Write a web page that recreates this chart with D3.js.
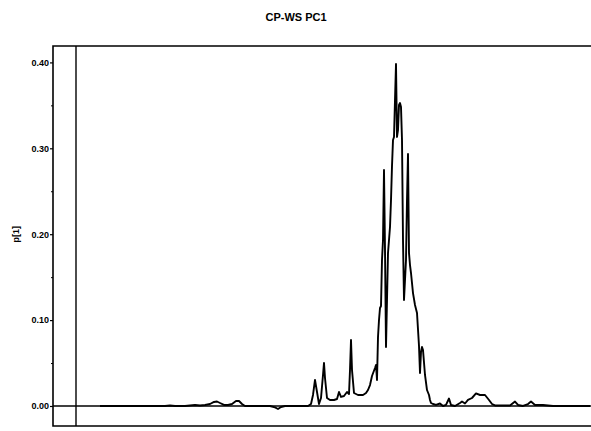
<!DOCTYPE html>
<html>
<head>
<meta charset="utf-8">
<script src="https://cdn.jsdelivr.net/npm/d3@7"></script>
<style>
  html, body { margin: 0; padding: 0; background: #fff; }
  svg { display: block; }
</style>
</head>
<body>
<svg id="chart" width="591" height="431"></svg>
<script>
// ---- data ----
const chartTitle = "CP-WS PC1";
const yLabel = "p[1]";
const yTicks = [0.00, 0.10, 0.20, 0.30, 0.40];
const yTickLabels = ["0.00", "0.10", "0.20", "0.30", "0.40"];
const yMinorTicks = [0.05, 0.15, 0.25, 0.35];
// variable index (x) and loading p[1] (y)
const varIndex = [24,64,89,94,99,109,114,119,124,129,134,138,141,144,148,152,156,160,163,166,169,179,194,199,202,205,209,224,232,235,237,239,241,243,245,247,248,249,251,254,258,261,263,265,268,271,273,274,275,276,278,282,287,290,292,294,296,299,300,301,302,303,304,305,306,307,308,309,310,311,312,313,314,315,316,317,318,319,320,321,322,323,324,325,326,327,328,329,330,331,332,333,334,335,337,339,341,343,344,345,346,347,349,351,353,354,355,357,360,364,367,370,373,375,379,384,386,389,392,396,400,404,409,413,416,419,424,434,439,442,447,452,455,459,467,477,494,514];
const loading = [0,0,0,0.0006,0,0,0.0006,0.0012,0.0006,0.0012,0.0023,0.0047,0.0052,0.0035,0.0012,0.0012,0.0023,0.0058,0.0058,0.0023,0,0,0,-0.0017,-0.0035,-0.0012,0,0,0,0.0023,0.0128,0.0303,0.0163,0.0023,0.0093,0.0361,0.0501,0.0326,0.0093,0.0070,0.0070,0.0081,0.0163,0.0105,0.0116,0.0163,0.0140,0.0419,0.0768,0.0419,0.0151,0.0128,0.0128,0.0151,0.0186,0.0244,0.0349,0.0442,0.0477,0.0303,0.0803,0.1001,0.1141,0.1164,0.1700,0.1932,0.2747,0.1816,0.0687,0.1234,0.1781,0.1932,0.2084,0.2398,0.2794,0.3097,0.3132,0.3562,0.3981,0.3132,0.3213,0.3504,0.3527,0.3481,0.3097,0.1932,0.1234,0.1467,0.1700,0.2398,0.2934,0.1781,0.1641,0.1548,0.1315,0.1176,0.1083,0.0698,0.0384,0.0629,0.0687,0.0652,0.0361,0.0186,0.0128,0.0070,0.0035,0.0023,0.0012,0.0029,0,0.0012,0.0087,0.0012,0,0.0035,0.0052,0.0029,0.0070,0.0093,0.0146,0.0128,0.0128,0.0070,0.0023,0.0006,0.0006,0.0006,0.0052,0.0012,0,0.0023,0.0052,0.0012,0.0012,0,0,0];
const xDomain = [-23, 519];
const yDomain = [-0.0233, 0.4191];

// ---- drawing ----
const svg = d3.select("#chart");
const plot = { left: 53, top: 46, right: 595, bottom: 426 };

const x = d3.scaleLinear().domain(xDomain).range([plot.left, plot.right]);
const y = d3.scaleLinear().domain(yDomain).range([plot.bottom, plot.top]);

const data = varIndex.map((v, i) => ({ x: v, y: loading[i] }));

// title
svg.append("text")
  .attr("x", 296).attr("y", 21)
  .attr("text-anchor", "middle")
  .attr("font-family", "Liberation Sans, Arial, sans-serif")
  .attr("font-weight", "bold").attr("font-size", 11)
  .text(chartTitle);

// y label
svg.append("text")
  .attr("transform", `translate(19,${y(0.2)}) rotate(-90)`)
  .attr("text-anchor", "middle")
  .attr("font-family", "Liberation Sans, Arial, sans-serif")
  .attr("font-weight", "bold").attr("font-size", 9)
  .text(yLabel);

// y axis
const yAxis = d3.axisLeft(y).tickValues(yTicks)
  .tickFormat((d, i) => yTickLabels[i]).tickSize(3).tickPadding(1);
const gy = svg.append("g").attr("transform", `translate(${plot.left},0)`).call(yAxis);
gy.select(".domain").remove();
gy.selectAll("line").attr("stroke", "#000").attr("stroke-width", 1.2);
gy.selectAll("text")
  .attr("font-family", "Liberation Sans, Arial, sans-serif")
  .attr("font-weight", "bold").attr("font-size", 9).attr("fill", "#000");

const yMinor = d3.axisLeft(y).tickValues(yMinorTicks).tickFormat("").tickSize(2);
const gym = svg.append("g").attr("transform", `translate(${plot.left},0)`).call(yMinor);
gym.select(".domain").remove();
gym.selectAll("line").attr("stroke", "#000");

// frame (right edge lies off-canvas)
svg.append("path")
  .attr("d", `M${plot.right},${plot.top}H${plot.left}V${plot.bottom}H${plot.right}`)
  .attr("fill", "none").attr("stroke", "#000").attr("stroke-width", 1.6);

// zero lines
svg.append("line")
  .attr("x1", plot.left).attr("x2", plot.right)
  .attr("y1", y(0)).attr("y2", y(0))
  .attr("stroke", "#000").attr("stroke-width", 1.4);
svg.append("line")
  .attr("x1", x(0)).attr("x2", x(0))
  .attr("y1", plot.top).attr("y2", plot.bottom)
  .attr("stroke", "#000").attr("stroke-width", 1.4);

// loading line
const line = d3.line().x(d => x(d.x)).y(d => y(d.y));
svg.append("path")
  .datum(data)
  .attr("d", line)
  .attr("fill", "none")
  .attr("stroke", "#000")
  .attr("stroke-width", 1.9)
  .attr("stroke-linejoin", "round");
</script>
</body>
</html>
